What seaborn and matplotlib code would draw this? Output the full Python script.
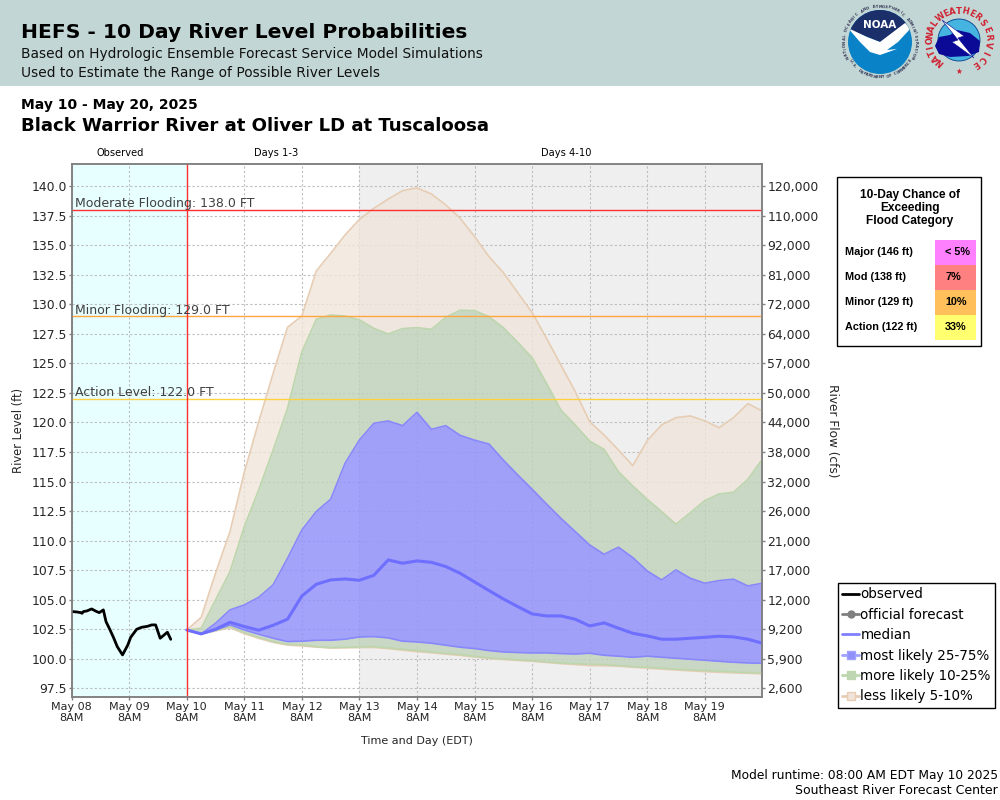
import numpy as np
import pandas as pd
import matplotlib
matplotlib.use("Agg")
import matplotlib.pyplot as plt
import seaborn as sns
from matplotlib.lines import Line2D
from matplotlib.patches import Circle, Polygon, Rectangle

# observed stage, hours after May 08 8AM
obs_hours = [0, 2, 3.75, 4.3, 4.9, 6.3, 8.3, 10.4, 11.5, 13.2, 14.3, 16, 17.4, 19, 21.2,
             23.4, 24.6, 27.1, 29.2, 31.6, 33.4, 35, 36.9, 39.9, 41.3]
obs_level = [103.99, 103.96, 103.9, 103.84, 103.99, 104.04, 104.21, 103.99, 103.9, 104.13,
             103.14, 102.43, 101.81, 101.02, 100.32, 101.16, 101.81, 102.49, 102.66, 102.74,
             102.86, 102.86, 101.73, 102.24, 101.64]

# forecast percentiles, every 6 hours from May 10 8AM
p95 = [102.43, 103.5, 107.25, 110.75, 115.8, 120.07, 124.16, 128.06, 129.02, 132.83, 134.32,
       135.88, 137.2, 138.13, 138.92, 139.63, 139.86, 139.35, 138.42, 137.29, 135.74, 134.04,
       132.69, 131.0, 129.3, 127.13, 124.87, 122.61, 120.07, 118.94, 117.67, 116.34, 118.46,
       119.79, 120.41, 120.55, 120.13, 119.56, 120.41, 121.6, 120.97]
p90 = [102.43, 102.58, 104.98, 107.38, 111.2, 114.3, 117.67, 121.2, 126.0, 128.74, 129.1,
       129.02, 128.68, 127.97, 127.49, 127.95, 128.03, 127.89, 128.9, 129.5, 129.47, 128.96,
       128.03, 126.79, 125.49, 123.32, 121.06, 119.79, 118.43, 117.73, 115.84, 114.63, 113.5,
       112.46, 111.38, 112.37, 113.39, 113.95, 114.09, 115.19, 116.9]
p75 = [102.43, 102.1, 103.0, 104.13, 104.55, 105.2, 106.25, 108.5, 110.9, 112.46, 113.5,
       116.55, 118.52, 119.93, 120.13, 119.73, 120.86, 119.42, 119.73, 118.91, 118.5, 118.18,
       116.82, 115.56, 114.35, 113.1, 111.89, 110.76, 109.63, 108.84, 109.44, 108.56, 107.43,
       106.67, 107.52, 106.81, 106.39, 106.61, 106.73, 106.16, 106.39]
p50 = [102.43, 102.1, 102.49, 103.08, 102.72, 102.41, 102.83, 103.34, 105.31, 106.3, 106.67,
       106.75, 106.64, 107.06, 108.36, 108.08, 108.28, 108.16, 107.8, 107.23, 106.5, 105.77,
       105.06, 104.41, 103.79, 103.62, 103.62, 103.34, 102.77, 103.03, 102.58, 102.15, 101.93,
       101.65, 101.65, 101.73, 101.81, 101.9, 101.84, 101.65, 101.31]
p25 = [102.43, 102.1, 102.43, 102.86, 102.43, 102.07, 101.73, 101.45, 101.48, 101.56, 101.56,
       101.65, 101.84, 101.87, 101.76, 101.48, 101.42, 101.31, 101.14, 100.97, 100.86, 100.69,
       100.57, 100.52, 100.49, 100.49, 100.43, 100.4, 100.46, 100.29, 100.21, 100.12, 100.21,
       100.12, 100.04, 99.95, 99.87, 99.78, 99.7, 99.64, 99.61]
p10 = [102.43, 102.1, 102.38, 102.72, 102.21, 101.81, 101.45, 101.22, 101.17, 101.02, 100.94,
       100.97, 101.0, 101.02, 100.91, 100.8, 100.69, 100.57, 100.46, 100.35, 100.2, 100.07,
       99.98, 99.9, 99.84, 99.73, 99.64, 99.58, 99.53, 99.5, 99.42, 99.33, 99.27, 99.19, 99.11,
       99.05, 98.99, 98.94, 98.88, 98.82, 98.8]
p05 = [102.43, 102.1, 102.35, 102.62, 102.12, 101.72, 101.38, 101.15, 101.08, 100.98, 100.9,
       100.92, 100.94, 100.95, 100.85, 100.72, 100.6, 100.5, 100.38, 100.28, 100.14, 100.02,
       99.93, 99.85, 99.78, 99.68, 99.58, 99.5, 99.42, 99.4, 99.36, 99.28, 99.2, 99.12, 99.04,
       98.97, 98.9, 98.85, 98.8, 98.76, 98.72]

level_ticks = [140, 137.5, 135, 132.5, 130, 127.5, 125, 122.5, 120, 117.5, 115, 112.5, 110,
               107.5, 105, 102.5, 100, 97.5]
flow_labels = ["120,000", "110,000", "92,000", "81,000", "72,000", "64,000", "57,000", "50,000",
               "44,000", "38,000", "32,000", "26,000", "21,000", "17,000", "12,000", "9,200",
               "5,900", "2,600"]

flood_levels = [138.0, 129.0, 122.0]
flood_names = ["Moderate Flooding: 138.0 FT", "Minor Flooding: 129.0 FT", "Action Level: 122.0 FT"]
flood_colors = ["#FF3030", "#FFA640", "#FFD040"]

chance_names = ["Major (146 ft)", "Mod (138 ft)", "Minor (129 ft)", "Action (122 ft)"]
chance_values = ["< 5%", "7%", "10%", "33%"]
chance_colors = ["#FF80FF", "#FF8080", "#FFC05C", "#FFFF70"]

BLUE = "#9393FA"
GREEN = "#C0D3BA"
TAN = "#F0E6DB"

sns.set_theme(style="ticks")
plt.rcParams["font.family"] = ["DejaVu Sans"]
plt.rcParams["text.color"] = "black"

start = pd.Timestamp("2025-05-08 08:00")
run_time = pd.Timestamp("2025-05-10 08:00")
times = pd.date_range(run_time, periods=len(p50), freq="6h")
day_ticks = pd.date_range(start, periods=12, freq="24h")

obs_df = pd.DataFrame({"time": start + pd.to_timedelta(obs_hours, unit="h"), "level": obs_level})
fc_df = pd.DataFrame({"time": times, "p05": p05, "p10": p10, "p25": p25, "p50": p50,
                      "p75": p75, "p90": p90, "p95": p95})

fig = plt.figure(figsize=(10, 8), dpi=100)
ax = fig.add_axes([71.7 / 1000, 1 - 697.3 / 800, 690.6 / 1000, 533 / 800])

# backgrounds for observed and days 4-10
ax.axvspan(start, run_time, color="#E8FFFF", lw=0, zorder=0)
ax.axvspan(pd.Timestamp("2025-05-13 08:00"), pd.Timestamp("2025-05-20 08:00"), color="#EFEFEF", lw=0, zorder=0)

# percentile bands, each one only between its own limits
for lo, hi, col, alpha in [("p90", "p95", TAN, 0.8), ("p05", "p10", TAN, 0.8), ("p75", "p90", GREEN, 0.8),
                           ("p10", "p25", GREEN, 0.8), ("p25", "p75", BLUE, 0.85)]:
    ax.fill_between(fc_df["time"], fc_df[lo], fc_df[hi], color=col, alpha=alpha, lw=0, zorder=2)
for col_name, edge in [("p95", "#E6CDB4"), ("p05", "#E6CDB4"), ("p90", "#BDD6AE"), ("p10", "#BDD6AE"),
                       ("p75", "#8888FA"), ("p25", "#8888FA")]:
    sns.lineplot(data=fc_df, x="time", y=col_name, ax=ax, color=edge, lw=1.2, zorder=3, legend=False)

sns.lineplot(data=fc_df, x="time", y="p50", ax=ax, color="#6E6EFF", lw=2.2, zorder=4, legend=False)
sns.lineplot(data=obs_df, x="time", y="level", ax=ax, color="black", lw=2.0, zorder=5, legend=False)

for lev, name, col in zip(flood_levels, flood_names, flood_colors):
    ax.axhline(lev, color=col, lw=1.0, zorder=6)
    ax.annotate(name, (0, lev), xycoords=("axes fraction", "data"), xytext=(2.2, 1.8),
                textcoords="offset points", fontsize=9, color="#404040", zorder=7)
ax.axvline(run_time, color="#FF3030", lw=1.0, zorder=6)

ax.set_xlim(start, pd.Timestamp("2025-05-20 08:00"))
ax.set_ylim(96.73, 141.86)
ax.set_xticks(day_ticks)
ax.set_xticklabels([d.strftime("%b %d") + "\n8AM" for d in day_ticks], fontsize=8, linespacing=1.05)
ax.set_yticks(level_ticks)
ax.set_yticklabels([f"{v:.1f}" for v in level_ticks], fontsize=8.9)
ax.grid(True, color="#BDBDBD", ls=(0, (2, 2)), lw=0.8)
ax.set_axisbelow(True)
ax.tick_params(color="#808080", length=2, width=1, pad=1.6)
for sp in ax.spines.values():
    sp.set_color("#808080")
    sp.set_linewidth(1.1)
ax.set_xlabel("Time and Day (EDT)", fontsize=8)
ax.xaxis.set_label_coords(0.5, -0.072)
ax.set_ylabel("River Level (ft)", fontsize=8.3)
ax.yaxis.set_label_coords(-0.068, 0.5)

# right axis is the rating curve, same positions as the stage ticks
ax2 = ax.twinx()
ax2.set_ylim(ax.get_ylim())
ax2.set_yticks(level_ticks)
ax2.set_yticklabels(flow_labels, fontsize=8.9)
ax2.tick_params(color="#808080", length=2, width=1, pad=1.6)
for sp in ax2.spines.values():
    sp.set_color("#808080")
    sp.set_linewidth(1.1)
ax2.set_ylabel("River Flow (cfs)", fontsize=8.7, rotation=270, va="center")
ax2.yaxis.set_label_coords(1.101, 0.5)


def band_handle(col, edge, label):
    return Line2D([], [], color=edge, lw=2, marker="s", ms=6, mfc=col, mec=edge, label=label)


handles = [
    Line2D([], [], color="black", lw=2, label="observed"),
    Line2D([], [], color="#808080", lw=2, marker="o", ms=5, label="official forecast"),
    Line2D([], [], color="#8080FF", lw=2, label="median"),
    band_handle("#9090FA", "#A0A0FF", "most likely 25-75%"),
    band_handle("#BFD6B4", "#BDD6AE", "more likely 10-25%"),
    band_handle("#F0E4D8", "#E6CDB4", "less likely 5-10%"),
]
leg = fig.legend(handles=handles, loc="upper left", bbox_to_anchor=(0.838, 1 - 583 / 800), borderaxespad=0,
                 fontsize=9.75, frameon=True, fancybox=False, framealpha=1, edgecolor="black",
                 labelspacing=0.47, handlelength=1.2, handletextpad=0.12, borderpad=0.33, labelcolor="black")
leg.get_frame().set_linewidth(1)

# overlay in pixel coordinates for the header, notes and the table
ov = fig.add_axes([0, 0, 1, 1], zorder=-1)
ov.set_xlim(0, 1000)
ov.set_ylim(800, 0)
ov.axis("off")
ov.add_patch(Rectangle((0, 0), 1000, 86, color="#C2D7D5", lw=0))
ov.text(21, 33, "HEFS - 10 Day River Level Probabilities", fontsize=14.6, fontweight="bold", va="center")
ov.text(21, 54, "Based on Hydrologic Ensemble Forecast Service Model Simulations", fontsize=9.9, color="#111111", va="center")
ov.text(21, 73, "Used to Estimate the Range of Possible River Levels", fontsize=9.9, color="#111111", va="center")
ov.text(21, 105, "May 10 - May 20, 2025", fontsize=10, fontweight="bold", va="center")
ov.text(21, 126, "Black Warrior River at Oliver LD at Tuscaloosa", fontsize=13.05, fontweight="bold", va="center")
ov.text(120, 153.5, "Observed", fontsize=7.1, ha="center", va="center")
ov.text(276, 153.5, "Days 1-3", fontsize=7.1, ha="center", va="center")
ov.text(566, 153.5, "Days 4-10", fontsize=7.1, ha="center", va="center")
ov.text(998, 775, "Model runtime: 08:00 AM EDT May 10 2025", fontsize=8.8, ha="right", va="center")
ov.text(998, 791, "Southeast River Forecast Center", fontsize=9, ha="right", va="center")

# chance of exceeding table
ov.add_patch(Rectangle((836.5, 176.5), 144, 169, fc="white", ec="black", lw=1))
for i, line in enumerate(["10-Day Chance of", "Exceeding", "Flood Category"]):
    ov.text(910, 195 + 13 * i, line, fontsize=8.6, fontweight="bold", family="Liberation Sans", ha="center", va="center")
for i in range(4):
    y = 240 + 25 * i
    ov.add_patch(Rectangle((935, y), 41, 25, color=chance_colors[i], lw=0))
    ov.text(845, y + 12, chance_names[i], fontsize=7.8, fontweight="bold", family="Liberation Sans", va="center")
    ov.text(945, y + 12, chance_values[i], fontsize=7.8, fontweight="bold", family="Liberation Sans", va="center")


def ring_text(text, cx, cy, r, a0, a1, color, size, flip=False):
    # letters around a circle, angles in degrees clockwise from the top
    for ch, a in zip(text, np.linspace(a0, a1, len(text))):
        t = np.radians(a)
        rot = 180 - a if flip else -a
        ov.text(cx + r * np.sin(t), cy - r * np.cos(t), ch, fontsize=size, color=color, fontweight="bold",
                rotation=rot, ha="center", va="center", rotation_mode="anchor")


# NOAA mark
noaa_disc = Circle((880, 42), 32, fc="#0A82C8", ec="none")
ov.add_patch(noaa_disc)
navy = Polygon([(845, 28), (880, 42), (915, 28), (915, 5), (845, 5)], fc="#1B2F6B", ec="none")
ov.add_patch(navy)
navy.set_clip_path(noaa_disc)
bird = Polygon([(848, 28), (867, 37), (880, 42), (905, 23), (911, 28), (898, 42), (887, 50), (897, 49),
                (880, 55), (870, 52), (860, 42)], fc="white", ec="none")
ov.add_patch(bird)
bird.set_clip_path(noaa_disc)
ov.text(880, 25, "NOAA", color="white", fontsize=7.5, fontweight="bold", ha="center", va="center")
ring_text("NATIONAL OCEANIC AND ATMOSPHERIC ADMINISTRATION", 880, 42, 35.5, -115, 115, "#333355", 2.6)
ring_text("U.S. DEPARTMENT OF COMMERCE", 880, 42, 35.5, 238, 122, "#333355", 2.6, flip=True)

# NWS mark
ov.add_patch(Circle((959, 40), 21, fc="#45B4E0", ec="#0A3C8C", lw=0.6))
ov.add_patch(Polygon([(935, 46), (939, 37), (950, 35), (957, 30), (970, 33), (980, 41), (979, 52), (968, 56),
                      (950, 57), (939, 54)], fc="#0A0A96", ec="none"))
ov.add_patch(Polygon([(942, 20), (964, 36), (958, 38), (974, 58), (952, 42), (958, 40)], fc="white", ec="#0A0A96", lw=0.4))
ring_text("NATIONAL", 959, 40, 29, -139, -56, "#D02030", 6)
ring_text("WEATHER", 959, 40, 29, -39, 39, "#D02030", 6)
ring_text("SERVICE", 959, 40, 29, 54, 145, "#D02030", 6)
ov.text(959, 71.5, "★", color="#D02030", fontsize=5.5, ha="center", va="center")

fig.savefig("out.png", dpi=100)
